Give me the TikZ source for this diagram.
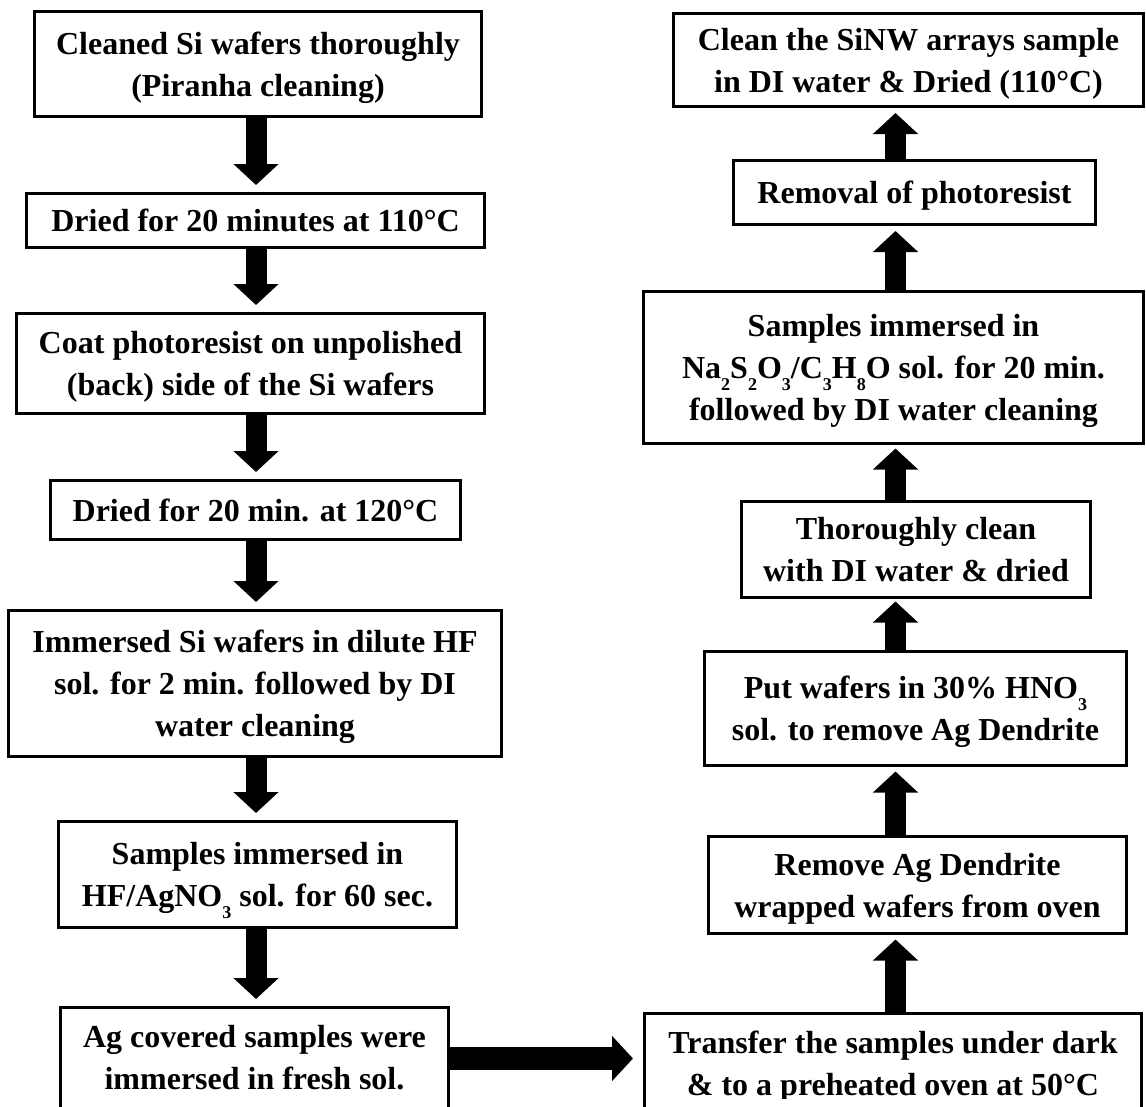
\documentclass[tikz,border=0pt]{standalone}
\usepackage{fontspec}
\setmainfont{Liberation Serif}
\usetikzlibrary{arrows.meta}
\newcommand\chemsub[1]{\raisebox{-12pt}{\fontsize{18}{18}\selectfont #1}}
\begin{document}
\begin{tikzpicture}[x=1pt,y=-1pt,
  box/.style={draw, line width=3pt, rectangle, inner sep=0pt, align=center,
    font=\fontsize{32}{42}\selectfont\bfseries},
  textonly/.style={inner sep=0pt, align=center,
    font=\fontsize{32}{42}\selectfont\bfseries},
  one/.style={text height=22pt, text depth=0pt},
  two/.style={text height=64pt, text depth=0pt},
  three/.style={text height=106pt, text depth=0pt},
  cut/.style={text height=64pt, text depth=31pt},
  blk/.style={line width=21pt, -{Triangle[width=44pt,length=21pt]}}]
\useasboundingbox (0,0) rectangle (1146,1106);
\clip (0,0) rectangle (1146,1106);
\fill[white] (0,0) rectangle (1146,1106);
\coordinate (colL) at (256,0);
\coordinate (colR) at (895.5,0);
% left column
\node[box, two, minimum width=447pt, minimum height=105pt] (B1) at (258,64) {Cleaned Si wafers thoroughly\\(Piranha cleaning)};
\node[box, one, minimum width=458pt, minimum height=54pt] (B2) at (255.5,220.5) {Dried for 20 minutes at 110°C};
\node[box, two, minimum width=468pt, minimum height=100pt] (B3) at (250.5,363.5) {Coat photoresist on unpolished\\(back) side of the Si wafers};
\node[box, one, minimum width=410pt, minimum height=59pt] (B4) at (255.5,510) {Dried for 20 min. at 120°C};
\node[box, three, minimum width=493pt, minimum height=146pt] (B5) at (255,683.5) {Immersed Si wafers in dilute HF\\sol. for 2 min. followed by DI\\water cleaning};
\node[box, two, minimum width=398pt, minimum height=106pt] (B6) at (257.5,874.5) {Samples immersed in\\HF/AgNO\chemsub{3} sol. for 60 sec.};
\node[box, cut, minimum width=388pt, minimum height=130pt] (B7) at (254.5,1072.5) {Ag covered samples were\\immersed in fresh sol.};
% right column
\node[box, minimum width=497pt, minimum height=130pt] (B8) at (893,1078.5) {};
\begin{scope}
\clip (620,1000) rectangle (1146,1098);
\node[textonly, cut] (B8t) at (B8.center) {Transfer the samples under dark\\\& to a preheated oven at 50°C};
\end{scope}
\node[box, two, minimum width=418pt, minimum height=97pt] (B9) at (917.5,885) {Remove Ag Dendrite\\wrapped wafers from oven};
\node[box, two, minimum width=422pt, minimum height=114pt] (B10) at (915.5,708.5) {Put wafers in 30\% HNO\chemsub{3}\\sol. to remove Ag Dendrite};
\node[box, two, minimum width=349pt, minimum height=96pt] (B11) at (916,549.5) {Thoroughly clean\\with DI water \& dried};
\node[box, three, minimum width=500pt, minimum height=152pt] (B12) at (893.5,367.5) {Samples immersed in\\Na\chemsub{2}S\chemsub{2}O\chemsub{3}/C\chemsub{3}H\chemsub{8}O sol. for 20 min.\\followed by DI water cleaning};
\node[box, one, minimum width=362pt, minimum height=64pt] (B13) at (914.5,192.5) {Removal of photoresist};
\node[box, two, minimum width=470pt, minimum height=93pt] (B14) at (908.5,60) {Clean the SiNW arrays sample\\in DI water \& Dried (110°C)};
% left arrows (down)
\draw[blk, shorten >=7pt] (B1.south -| colL) -- (B2.north -| colL);
\draw[blk, shorten >=7pt] (B2.south -| colL) -- (B3.north -| colL);
\draw[blk, shorten >=7pt] (B3.south -| colL) -- (B4.north -| colL);
\draw[blk, shorten >=7pt] (B4.south -| colL) -- (B5.north -| colL);
\draw[blk, shorten >=7pt] (B5.south -| colL) -- (B6.north -| colL);
\draw[blk, shorten >=7pt] (B6.south -| colL) -- (B7.north -| colL);
% horizontal
\coordinate (hL) at (0,1058.5);
\draw[blk, line width=23pt, shorten >=10pt] (B7.east |- hL) -- (B8.west |- hL);
% right arrows (up)
\draw[blk, shorten >=4.5pt] (B8.north -| colR) -- (B9.south -| colR);
\draw[blk, shorten >=4.5pt] (B9.north -| colR) -- (B10.south -| colR);
\draw[blk, shorten >=2.5pt] (B10.north -| colR) -- (B11.south -| colR);
\draw[blk, shorten >=3.5pt] (B11.north -| colR) -- (B12.south -| colR);
\draw[blk, shorten >=5pt] (B12.north -| colR) -- (B13.south -| colR);
\draw[blk, shorten >=5pt] (B13.north -| colR) -- (B14.south -| colR);
\end{tikzpicture}
\end{document}
